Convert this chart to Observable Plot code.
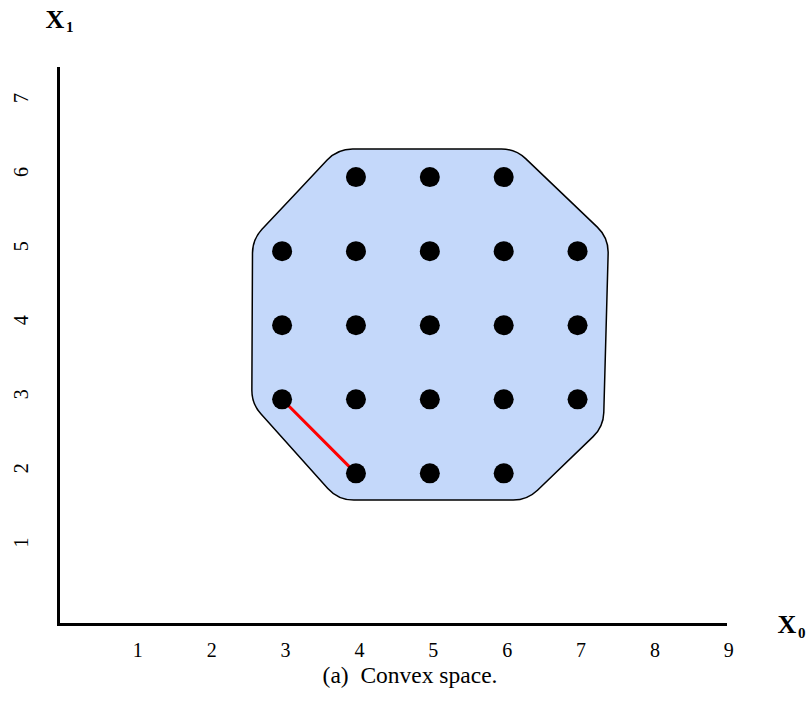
<!DOCTYPE html>
<html>
<head>
<meta charset="utf-8">
<script src="https://cdn.jsdelivr.net/npm/d3@7"></script>
<script src="https://cdn.jsdelivr.net/npm/@observablehq/plot@0.6"></script>
<style>
  body { margin: 0; background: white; }
  #wrap { position: relative; width: 808px; height: 705px; }
  #caption {
    position: absolute; left: 0; top: 663px; width: 820px;
    text-align: center; font-family: "Liberation Serif", "Times New Roman", serif;
    font-size: 23.5px; line-height: 24px; color: black; white-space: pre;
  }
</style>
</head>
<body>
<div id="wrap"><div id="chart"></div><div id="caption">(a)  Convex space.</div></div>
<script>
// Lattice points (x0, x1)
const pointX = [4, 5, 6, 3, 4, 5, 6, 7, 3, 4, 5, 6, 7, 3, 4, 5, 6, 7, 4, 5, 6];
const pointY = [6, 6, 6, 5, 5, 5, 5, 5, 4, 4, 4, 4, 4, 3, 3, 3, 3, 3, 2, 2, 2];

// Convex region (octagon) vertices
const hullX = [3.75, 6.16, 7.42, 7.35, 6.32, 3.76, 2.59, 2.60];
const hullY = [6.38, 6.38, 5.18, 2.63, 1.64, 1.64, 2.94, 5.16];

// Red segment
const segX = [3, 4];
const segY = [3, 2];

// Tick labels
const xTicks = [1, 2, 3, 4, 5, 6, 7, 8, 9];
const yTicks = [1, 2, 3, 4, 5, 6, 7];

const points = pointX.map((x, i) => ({x, y: pointY[i]}));
const hull = hullX.map((x, i) => ({x, y: hullY[i]}));
const seg = segX.map((x, i) => ({x, y: segY[i]}));

function roundedClosed(radius) {
  return function(context) {
    let pts = [];
    return {
      areaStart() {}, areaEnd() {},
      lineStart() { pts = []; },
      lineEnd() {
        const n = pts.length;
        if (n < 3) return;
        const a = pts[n - 1], b = pts[0];
        context.moveTo((a[0] + b[0]) / 2, (a[1] + b[1]) / 2);
        for (let i = 0; i < n; i++) {
          const p = pts[i], q = pts[(i + 1) % n];
          context.arcTo(p[0], p[1], (p[0] + q[0]) / 2, (p[1] + q[1]) / 2, radius);
        }
        context.closePath();
      },
      point(x, y) { pts.push([+x, +y]); }
    };
  };
}

const serif = "Liberation Serif, Times New Roman, serif";

const chart = Plot.plot({
  width: 808,
  height: 660,
  marginLeft: 60,
  marginRight: 81,
  marginTop: 67,
  marginBottom: 39,
  style: {fontFamily: serif, background: "white", color: "black"},
  x: {domain: [0, 9.03], axis: null},
  y: {domain: [0, 7.48], axis: null},
  marks: [
    Plot.line(hull, {x: "x", y: "y", curve: roundedClosed(35), fill: "#c4d8fa", stroke: "black", strokeWidth: 1.5}),
    Plot.line(seg, {x: "x", y: "y", stroke: "red", strokeWidth: 3}),
    Plot.dot(points, {x: "x", y: "y", r: 10, fill: "black", stroke: null}),
    Plot.ruleX([0], {stroke: "black", strokeWidth: 3, dx: -2, insetBottom: -5}),
    Plot.ruleY([0], {stroke: "black", strokeWidth: 3, dy: 3, insetLeft: -3}),
    Plot.text(xTicks, {x: d => d, text: d => String(d), frameAnchor: "bottom", dy: 29, dx: 3.5, fontSize: 20, lineAnchor: "middle", fill: "black"}),
    Plot.text(yTicks, {y: d => d, text: d => String(d), frameAnchor: "left", dx: -38.5, rotate: -90, fontSize: 20, lineAnchor: "middle", fill: "black"}),
    Plot.text(["X"], {frameAnchor: "top-left", dx: -15, dy: -40, textAnchor: "start", lineAnchor: "bottom", fontWeight: "bold", fontSize: 26, fill: "black"}),
    Plot.text(["1"], {frameAnchor: "top-left", dx: 5.5, dy: -36, textAnchor: "start", lineAnchor: "bottom", fontWeight: "bold", fontSize: 15, fill: "black"}),
    Plot.text(["X"], {frameAnchor: "bottom-right", dx: 50, dy: 11.5, textAnchor: "start", lineAnchor: "bottom", fontWeight: "bold", fontSize: 26, fill: "black"}),
    Plot.text(["0"], {frameAnchor: "bottom-right", dx: 70.5, dy: 16.5, textAnchor: "start", lineAnchor: "bottom", fontWeight: "bold", fontSize: 15, fill: "black"})
  ]
});
document.getElementById("chart").appendChild(chart);
</script>
</body>
</html>
